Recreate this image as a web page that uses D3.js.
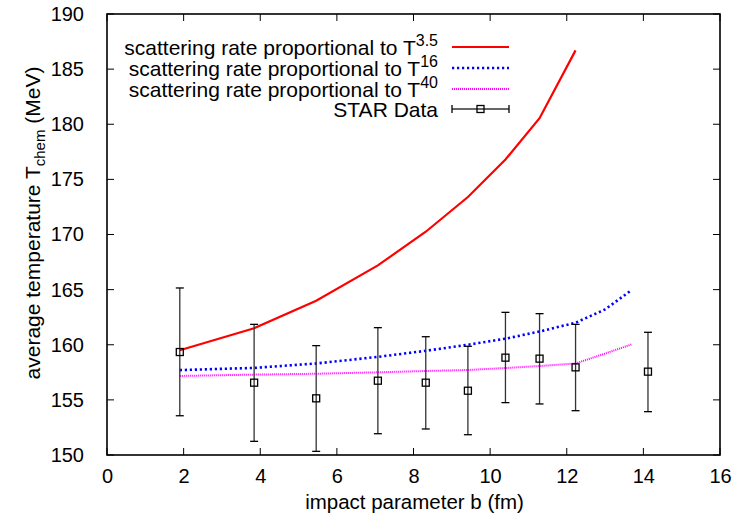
<!DOCTYPE html>
<html>
<head>
<meta charset="utf-8">
<script src="https://cdn.jsdelivr.net/npm/d3@7"></script>
<style>
  html, body { margin: 0; padding: 0; background: #fff; }
  svg { display: block; font-family: "Liberation Sans", Arial, sans-serif; }
</style>
</head>
<body>
<svg id="chart" width="734" height="523"></svg>
<script>
// ---- data ----
const redX   = [1.9, 3.84, 5.46, 7.07, 8.32, 9.42, 10.40, 11.29, 12.23];
const redY   = [159.5, 161.5, 164.0, 167.2, 170.25, 173.4, 176.8, 180.55, 186.7];
const blueX  = [1.9, 3.84, 5.46, 7.07, 8.32, 9.42, 10.40, 11.29, 12.23, 13.0, 13.67];
const blueY  = [157.7, 157.9, 158.3, 158.9, 159.45, 160.0, 160.55, 161.2, 162.0, 163.2, 164.9];
const magX   = [1.9, 3.84, 5.46, 7.07, 8.32, 9.42, 10.40, 11.29, 12.23, 13.0, 13.7];
const magY   = [157.17, 157.29, 157.37, 157.5, 157.62, 157.71, 157.89, 158.07, 158.3, 159.2, 160.04];
const starX  = [1.9, 3.84, 5.46, 7.07, 8.32, 9.42, 10.40, 11.29, 12.23, 14.12];
const starY  = [159.34, 156.56, 155.14, 156.74, 156.56, 155.83, 158.83, 158.74, 157.95, 157.56];
const starHi = [165.15, 161.85, 159.92, 161.55, 160.73, 159.86, 162.94, 162.82, 161.85, 161.13];
const starLo = [153.56, 151.24, 150.33, 151.93, 152.36, 151.84, 154.75, 154.63, 154.02, 153.93];
const xTicks = [0, 2, 4, 6, 8, 10, 12, 14, 16];
const yTicks = [150, 155, 160, 165, 170, 175, 180, 185, 190];
const legendLabels = ["scattering rate proportional to T", "scattering rate proportional to T", "scattering rate proportional to T", "STAR Data"];
const legendSups = ["3.5", "16", "40", ""];

// ---- layout ----
const L = 107, R = 720, T = 14, B = 455;
const svg = d3.select("#chart");
const x = d3.scaleLinear().domain([0, 16]).range([L, R]);
const y = d3.scaleLinear().domain([150, 190]).range([B, T]);
const FS = 20;

// ticks (inward, mirrored)
const tickLen = 7;
const gAx = svg.append("g").attr("stroke", "#000").attr("stroke-width", 1);
xTicks.forEach(v => {
  gAx.append("line").attr("x1", x(v)).attr("x2", x(v)).attr("y1", B).attr("y2", B - tickLen);
  gAx.append("line").attr("x1", x(v)).attr("x2", x(v)).attr("y1", T).attr("y2", T + tickLen);
});
yTicks.forEach(v => {
  gAx.append("line").attr("y1", y(v)).attr("y2", y(v)).attr("x1", L).attr("x2", L + tickLen);
  gAx.append("line").attr("y1", y(v)).attr("y2", y(v)).attr("x1", R).attr("x2", R - tickLen);
});

// tick labels via d3 axes (hidden lines)
const xAxis = svg.append("g").attr("transform", `translate(0,${B})`)
  .call(d3.axisBottom(x).tickValues(xTicks).tickSize(0).tickPadding(14).tickFormat(d3.format("d")));
const yAxis = svg.append("g").attr("transform", `translate(${L},0)`)
  .call(d3.axisLeft(y).tickValues(yTicks).tickSize(0).tickPadding(23).tickFormat(d3.format("d")));
[xAxis, yAxis].forEach(a => {
  a.select(".domain").remove();
  a.selectAll("text").attr("font-size", FS).attr("font-family", "Liberation Sans, Arial, sans-serif").attr("fill", "#000");
});

// frame
svg.append("rect").attr("x", L).attr("y", T).attr("width", R - L).attr("height", B - T)
  .attr("fill", "none").attr("stroke", "#000").attr("stroke-width", 1.6);

// axis titles
svg.append("text").attr("x", (L + R) / 2 + 1).attr("y", 509).attr("text-anchor", "middle")
  .attr("font-size", 20.5).text("impact parameter b (fm)");
const yt = svg.append("text").attr("transform", "translate(40,223) rotate(-90)")
  .attr("text-anchor", "middle").attr("font-size", 21);
yt.append("tspan").text("average temperature T");
yt.append("tspan").attr("font-size", 15).attr("dy", 5).text("chem");
yt.append("tspan").attr("dy", -5).text(" (MeV)");

// curves
const line = d3.line().x(d => x(d[0])).y(d => y(d[1]));
const series = [
  { xs: redX, ys: redY, color: "#ff0000", width: 2.2, dash: null },
  { xs: blueX, ys: blueY, color: "#0000ff", width: 2.6, dash: "2.2,2.8" },
  { xs: magX, ys: magY, color: "#ff00ff", width: 2, dash: "1,1" }
];
series.forEach(s => {
  svg.append("path").datum(s.xs.map((v, i) => [v, s.ys[i]]))
    .attr("d", line).attr("fill", "none").attr("stroke", s.color)
    .attr("stroke-width", s.width).attr("stroke-dasharray", s.dash);
});

// STAR data with error bars
const gData = svg.append("g");
const cap = 4, sq = 7;
starX.forEach((v, i) => {
  const cx = x(v);
  gData.append("line").attr("x1", cx).attr("x2", cx).attr("y1", y(starHi[i])).attr("y2", y(starLo[i]))
    .attr("stroke", "#333").attr("stroke-width", 1.3);
  [starHi[i], starLo[i]].forEach(e => {
    gData.append("line").attr("x1", cx - cap).attr("x2", cx + cap).attr("y1", y(e)).attr("y2", y(e))
      .attr("stroke", "#000").attr("stroke-width", 1.3);
  });
  gData.append("rect").attr("x", cx - sq / 2).attr("y", y(starY[i]) - sq / 2).attr("width", sq).attr("height", sq)
    .attr("fill", "none").attr("stroke", "#000").attr("stroke-width", 1.3);
});

// legend
const legY = [47, 68, 89, 109];
const lx0 = 452, lx1 = 509, textX = 438;
legendLabels.forEach((lab, i) => {
  const t = svg.append("text").attr("x", textX).attr("y", legY[i] + 8).attr("text-anchor", "end").attr("font-size", 21);
  t.append("tspan").text(lab);
  if (legendSups[i]) t.append("tspan").attr("font-size", 16).attr("dy", -9).text(legendSups[i]);
  if (i < 3) {
    const s = series[i];
    svg.append("line").attr("x1", lx0).attr("x2", lx1).attr("y1", legY[i]).attr("y2", legY[i])
      .attr("stroke", s.color).attr("stroke-width", s.width).attr("stroke-dasharray", s.dash);
  } else {
    const yy = legY[i];
    svg.append("line").attr("x1", lx0).attr("x2", lx1).attr("y1", yy).attr("y2", yy).attr("stroke", "#333").attr("stroke-width", 1.3);
    [lx0, lx1].forEach(xx => svg.append("line").attr("x1", xx).attr("x2", xx).attr("y1", yy - cap).attr("y2", yy + cap).attr("stroke", "#000").attr("stroke-width", 1.3));
    svg.append("rect").attr("x", (lx0 + lx1) / 2 - sq / 2).attr("y", yy - sq / 2).attr("width", sq).attr("height", sq)
      .attr("fill", "none").attr("stroke", "#000").attr("stroke-width", 1.3);
  }
});
</script>
</body>
</html>
